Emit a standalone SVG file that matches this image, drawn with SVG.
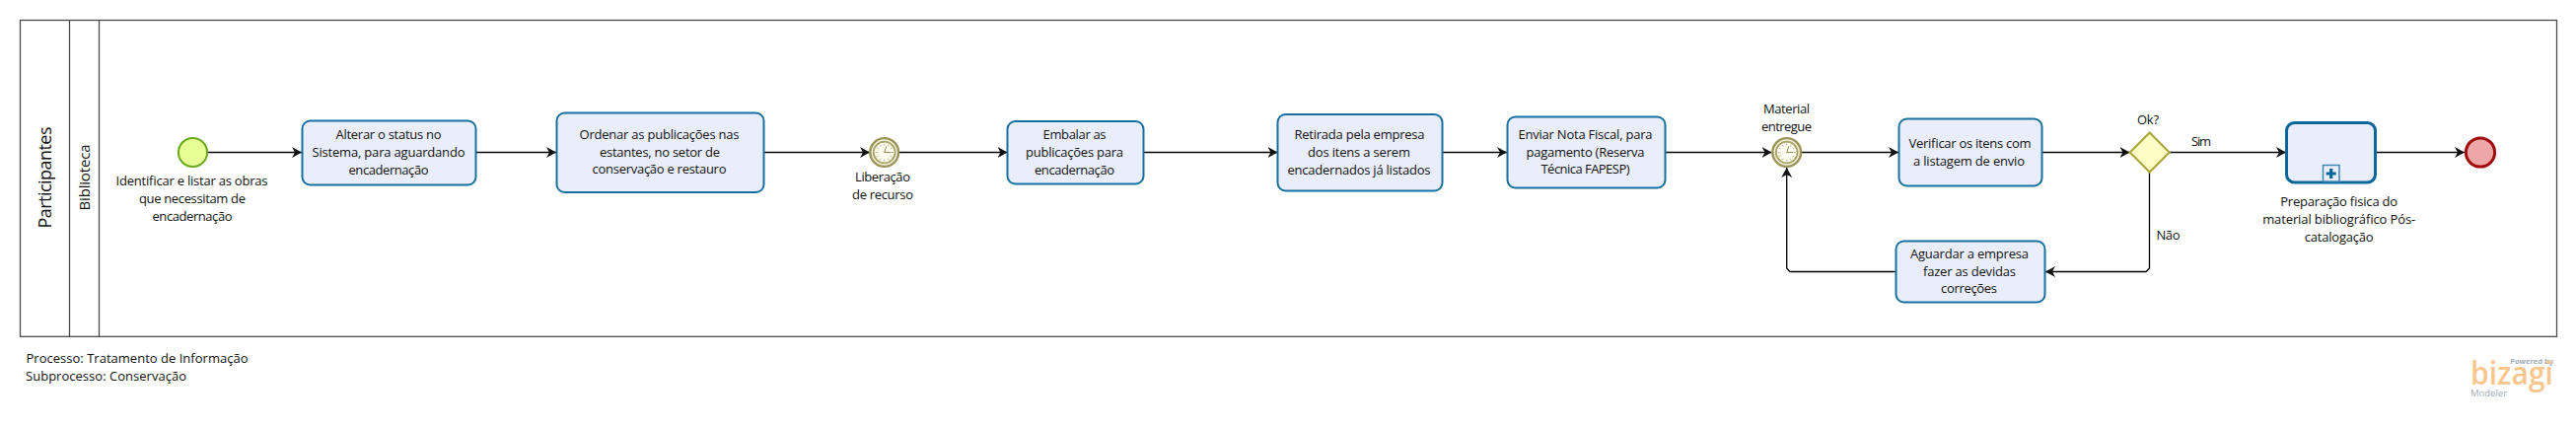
<svg xmlns="http://www.w3.org/2000/svg" width="2612" height="434" viewBox="0 0 2612 434">
<style>
text{font-family:"Open Sans","Noto Sans","DejaVu Sans",sans-serif;font-size:13px;fill:#111;text-anchor:middle}
.l{text-anchor:start}
.task{fill:#eaeefc;stroke:#16709f;stroke-width:2}
.lane{fill:none;stroke:#4a4a4a;stroke-width:1.3}
.c{fill:none;stroke:#000;stroke-width:1.3;marker-end:url(#arrow)}
.ring{fill:none;stroke:#9c9558}
</style>
<defs>
<marker id="arrow" markerUnits="userSpaceOnUse" markerWidth="12" markerHeight="12" refX="10" refY="6" orient="auto">
<path d="M0 0.5L10 6L0 11.5L3 6Z" fill="#111"/>
</marker>
<g id="timer">
<circle r="14.4" fill="#f4f1d8" stroke="#9c9558" stroke-width="2.4"/>
<circle r="10.9" fill="#fffdf0" stroke="#a8a26c" stroke-width="1.8"/>
<path d="M0-9V-7M4.5-7.8L3.5-6M7.8-4.5L6-3.5M9 0H7M7.8 4.5L6 3.5M4.5 7.8L3.5 6M0 9V7M-4.5 7.8L-3.5 6M-7.8 4.5L-6 3.5M-9 0H-7M-7.8-4.5L-6-3.5M-4.5-7.8L-3.5-6" stroke="#a8a26c" stroke-width=".8" fill="none"/>
<path d="M0 0L2-6M0 0H6.5" stroke="#8f8850" stroke-width="1" fill="none"/>
</g>
</defs>
<rect width="2612" height="434" fill="#fff"/>
<g id="pool">
<rect x="20.5" y="20.5" width="2572" height="320.8" class="lane"/>
<path d="M70.5 20.5V341.3M100.5 20.5V341.3" class="lane"/>
<text transform="translate(52 180) rotate(-90)" style="font-size:18px" textLength="103">Participantes</text>
<text transform="translate(90.7 180) rotate(-90)" style="font-size:15px" textLength="67">Biblioteca</text>
</g>
<g id="connectors">
<path class="c" d="M211 154.5H306"/>
<path class="c" d="M482.5 154.5H564"/>
<path class="c" d="M775 154.5H882"/>
<path class="c" d="M912 154.5H1021.5"/>
<path class="c" d="M1160 154.5H1295.5"/>
<path class="c" d="M1463 154.5H1528"/>
<path class="c" d="M1689 154.5H1796.5"/>
<path class="c" d="M1827 154.5H1925"/>
<path class="c" d="M2071 154.5H2159.5"/>
<path class="c" d="M2199.5 154.5H2318"/>
<path class="c" d="M2409 154.5H2499"/>
<path class="c" d="M2179.5 174.5V272L2176 275.5H2074"/>
<path class="c" d="M1922 275.5H1815L1811.7 272V170"/>
</g>
<g id="start">
<circle cx="195.5" cy="154.5" r="14.6" fill="#e6ff97" stroke="#6aa91b" stroke-width="2"/>
<text x="194.5" y="188" textLength="154">Identificar e listar as obras</text>
<text x="195" y="206" textLength="108">que necessitam de</text>
<text x="195" y="224" textLength="81">encadernação</text>
</g>
<g id="task1">
<rect x="306.5" y="122.5" width="176" height="65" rx="8" class="task"/>
<text x="394" y="141" textLength="107">Alterar o status no</text>
<text x="394" y="159" textLength="155">Sistema, para aguardando</text>
<text x="394" y="177" textLength="81">encadernação</text>
</g>
<g id="task2">
<rect x="564.5" y="114.5" width="210" height="80.5" rx="8" class="task"/>
<text x="668.5" y="141" textLength="162">Ordenar as publicações nas</text>
<text x="669" y="159" textLength="122">estantes, no setor de</text>
<text x="668.5" y="176" textLength="136">conservação e restauro</text>
</g>
<g id="timer1">
<use href="#timer" x="896.7" y="154.5"/>
<text x="895" y="184" textLength="56">Liberação</text>
<text x="895" y="202" textLength="62">de recurso</text>
</g>
<g id="task3">
<rect x="1021.5" y="123" width="138" height="63.5" rx="8" class="task"/>
<text x="1089.5" y="141" textLength="64">Embalar as</text>
<text x="1089.5" y="159" textLength="99">publicações para</text>
<text x="1089.5" y="177" textLength="81">encadernação</text>
</g>
<g id="task4">
<rect x="1295.5" y="116" width="167" height="77.5" rx="8" class="task"/>
<text x="1378.5" y="141" textLength="132">Retirada pela empresa</text>
<text x="1378" y="159" textLength="104">dos itens a serem</text>
<text x="1378" y="177" textLength="145">encadernados já listados</text>
</g>
<g id="task5">
<rect x="1528.5" y="118.5" width="160" height="72" rx="8" class="task"/>
<text x="1607.5" y="141" textLength="136">Enviar Nota Fiscal, para</text>
<text x="1607.5" y="159" textLength="120">pagamento (Reserva</text>
<text x="1607.5" y="176" textLength="90">Técnica FAPESP)</text>
</g>
<g id="timer2">
<use href="#timer" x="1811.7" y="154.5"/>
<text x="1811.5" y="115" textLength="47">Material</text>
<text x="1811.5" y="133" textLength="51">entregue</text>
</g>
<g id="task6">
<rect x="1925.5" y="120.5" width="145" height="68" rx="8" class="task"/>
<text x="1997.5" y="150" textLength="124">Verificar os itens com</text>
<text x="1996.5" y="168" textLength="113">a listagem de envio</text>
</g>
<g id="task7">
<rect x="1922.5" y="244.5" width="151" height="62" rx="8" class="task"/>
<text x="1997" y="262" textLength="120">Aguardar a empresa</text>
<text x="1997" y="280" textLength="94">fazer as devidas</text>
<text x="1996.5" y="297" textLength="57">correções</text>
</g>
<g id="gateway">
<path d="M2179.7 134.5L2199.7 154.5L2179.7 174.5L2159.7 154.5Z" fill="#fdfdc5" stroke="#a9a535" stroke-width="2"/>
<text x="2178" y="126" textLength="22">Ok?</text>
</g>
<text class="l" x="2222" y="148" textLength="20">Sim</text>
<text class="l" x="2186.5" y="243" textLength="24">Não</text>
<g id="subprocess">
<rect x="2318.5" y="124.5" width="90" height="60.5" rx="8" fill="#eaeefc" stroke="#07679b" stroke-width="3"/>
<rect x="2355.5" y="167.5" width="16.5" height="16.5" fill="#eaeefc" stroke="#3d89b4" stroke-width="1.5"/>
<path d="M2363.7 171V181M2358.7 176H2368.7" stroke="#07679b" stroke-width="3.2" fill="none"/>
<text x="2371.7" y="209" textLength="119">Preparação fisica do</text>
<text x="2371.7" y="227" textLength="155">material bibliográfico Pós-</text>
<text x="2371.7" y="245" textLength="70">catalogação</text>
</g>
<g id="end">
<circle cx="2515" cy="154.5" r="14.6" fill="#eea7a7" stroke="#a20c0c" stroke-width="3"/>
</g>
<g id="footer">
<text class="l" x="26.5" y="368" textLength="225">Processo: Tratamento de Informação</text>
<text class="l" x="26" y="386" textLength="163">Subprocesso: Conservação</text>
</g>
<g id="logo">
<text x="2589" y="369" style="text-anchor:end;font-size:7.5px;font-weight:700;fill:#a3adb6">Powered by</text>
<text class="l" x="2505" y="390" textLength="84" lengthAdjust="spacingAndGlyphs" style="font-size:33px;font-weight:600;fill:#f9c78d">bizagi</text>
<text class="l" x="2505" y="402" style="font-size:9.5px;fill:#a3adb6">Modeler</text>
</g>
</svg>
